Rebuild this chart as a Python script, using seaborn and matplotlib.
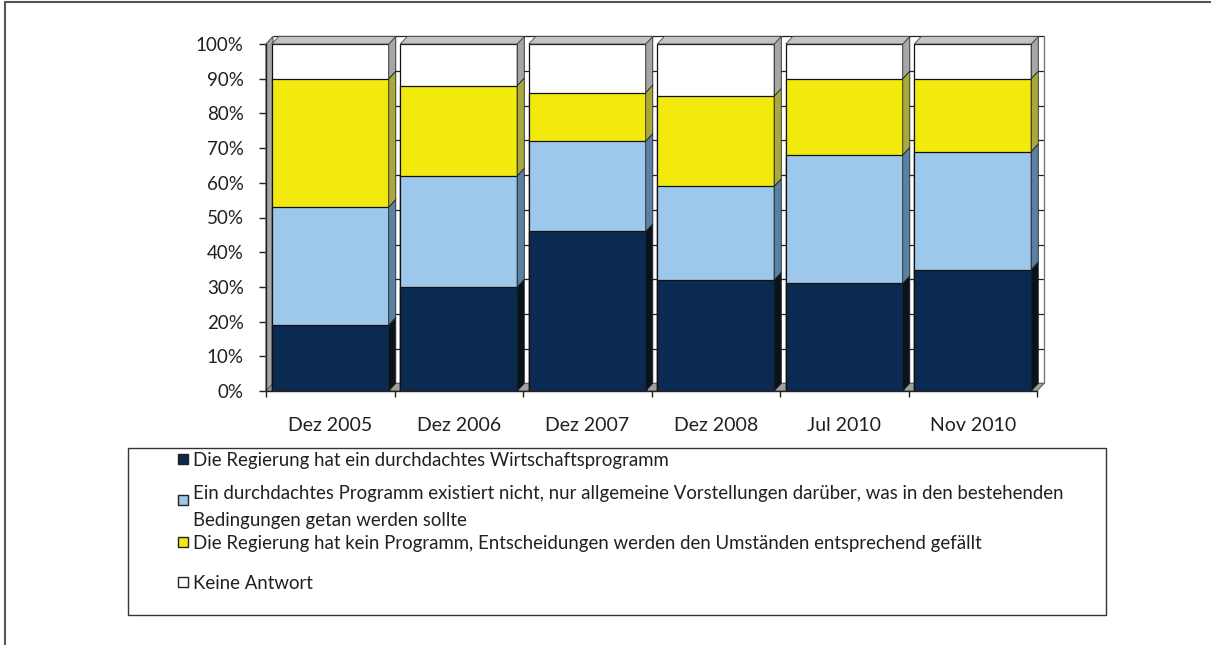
import numpy as np
import matplotlib.pyplot as plt
import seaborn as sns
from matplotlib.patches import Polygon, Rectangle
from matplotlib.lines import Line2D

# ── Data ───────────────────────────────────────────────
periods = ["Dez 2005", "Dez 2006", "Dez 2007", "Dez 2008", "Jul 2010", "Nov 2010"]
has_program = [19, 30, 46, 32, 31, 35]
vague_ideas = [34, 32, 26, 27, 37, 34]
no_program = [37, 26, 14, 26, 22, 21]
no_answer = [10, 12, 14, 15, 10, 10]

series_labels = [
    "Die Regierung hat ein durchdachtes Wirtschaftsprogramm",
    "Ein durchdachtes Programm existiert nicht, nur allgemeine Vorstellungen darüber, was in den bestehenden\nBedingungen getan werden sollte",
    "Die Regierung hat kein Programm, Entscheidungen werden den Umständen entsprechend gefällt",
    "Keine Antwort",
]
y_ticks = list(range(0, 101, 10))

# ── Style ──────────────────────────────────────────────
front_colors = ["#0b2a51", "#9ec8eb", "#f2e90d", "#ffffff"]
side_colors = ["#08131e", "#5a80a3", "#a9a83c", "#a6a6a6"]
top_color = "#c3c3c3"
text_color = "#231f20"
BAR_W = 0.91
DX = 0.055   # depth offset, category units
DY = 2.2     # depth offset, percent units

sns.set_style("white")
plt.rcParams["font.family"] = ["Lato", "DejaVu Sans"]
plt.rcParams["text.color"] = text_color

fig = plt.figure(figsize=(12.11, 6.45), dpi=100)
W, H = 1211, 645
ax = fig.add_axes([266 / W, 1 - 391 / H, 771 / W, 347 / H])

stack = np.array([has_program, vague_ideas, no_program, no_answer], dtype=float)
cum = np.cumsum(stack, axis=0)
n = len(periods)
x = np.arange(n)

# back wall gridlines + walls
ax.hlines([v + DY for v in y_ticks], -0.5 + DX, n - 0.5 + DX, colors="#222222",
          linewidth=0.9, zorder=1, clip_on=False)
ax.vlines(n - 0.5 + DX, DY, 100 + DY, colors="#777777", linewidth=1, zorder=1, clip_on=False)
ax.add_patch(Polygon([(-0.5, 0), (-0.5 + DX, DY), (-0.5 + DX, 100 + DY), (-0.5, 100)],
                     closed=True, facecolor="#a6a6a6", edgecolor="#555555",
                     linewidth=0.8, zorder=1.5, clip_on=False))
ax.add_patch(Polygon([(-0.5, 0), (n - 0.5, 0), (n - 0.5 + DX, DY), (-0.5 + DX, DY)],
                     closed=True, facecolor="#a0a0a0", edgecolor="#666666",
                     linewidth=0.8, zorder=1.5, clip_on=False))

# stacked bars, top layer first
for k in reversed(range(len(stack))):
    sns.barplot(x=periods, y=cum[k], color=front_colors[k], saturation=1,
                width=BAR_W, edgecolor="#111111", linewidth=0.9,
                errorbar=None, ax=ax, zorder=3)

# side and top faces
for i in x:
    xr = i + BAR_W / 2
    xl = i - BAR_W / 2
    for k in range(len(stack)):
        b = cum[k - 1][i] if k > 0 else 0
        t = cum[k][i]
        ax.add_patch(Polygon([(xr, b), (xr + DX, b + DY), (xr + DX, t + DY), (xr, t)],
                             closed=True, facecolor=side_colors[k], edgecolor="#222222",
                             linewidth=0.6, zorder=3.5, clip_on=False))
    ax.add_patch(Polygon([(xl, cum[-1][i]), (xl + DX, cum[-1][i] + DY),
                          (xr + DX, cum[-1][i] + DY), (xr, cum[-1][i])],
                         closed=True, facecolor=top_color, edgecolor="#444444",
                         linewidth=0.6, zorder=3.5, clip_on=False))

ax.set_xlim(-0.5, n - 0.5)
ax.set_ylim(0, 100)
ax.set_yticks(y_ticks)
ax.set_yticklabels([f"{v}%" for v in y_ticks], fontsize=13.5, color=text_color)
ax.set_xticks(np.arange(n + 1) - 0.5)
ax.set_xticklabels([])
ax.set_xticks(x, minor=True)
ax.set_xticklabels(periods, minor=True, fontsize=14, color=text_color)
ax.tick_params(axis="y", which="major", left=True, length=5, width=1, color="#222222", pad=11)
ax.tick_params(axis="x", which="major", bottom=True, length=4.5, width=1, color="#222222")
ax.tick_params(axis="x", which="minor", bottom=True, length=0, pad=18.5)
ax.set_xlabel("")
ax.set_ylabel("")
for side in ["top", "right"]:
    ax.spines[side].set_visible(False)
for side in ["left", "bottom"]:
    ax.spines[side].set_color("#222222")
    ax.spines[side].set_linewidth(1)
    ax.spines[side].set_zorder(4)

# ── Legend box ─────────────────────────────────────────
fig.add_artist(Rectangle((128 / W, 1 - 615 / H), (1106 - 128) / W, (615 - 448) / H,
                         transform=fig.transFigure, facecolor="none",
                         edgecolor="#333333", linewidth=1))
entry_y = [459, 500, 542, 582]
for lbl, col, yy in zip(series_labels, front_colors, entry_y):
    fig.add_artist(Rectangle((178 / W, 1 - (yy + 5) / H), 10 / W, 10 / H,
                             transform=fig.transFigure, facecolor=col,
                             edgecolor="#222222", linewidth=1))
    fig.text(193 / W, 1 - yy / H, lbl, fontsize=13.4, va="center_baseline",
             ha="left", linespacing=1.75, color=text_color)

# outer frame lines
fig.add_artist(Line2D([5 / W, 1], [1 - 2 / H, 1 - 2 / H], transform=fig.transFigure,
                      color="#555555", linewidth=1.5))
fig.add_artist(Line2D([5 / W, 5 / W], [0, 1 - 2 / H], transform=fig.transFigure,
                      color="#555555", linewidth=1.5))

fig.savefig("out.png", dpi=100)
